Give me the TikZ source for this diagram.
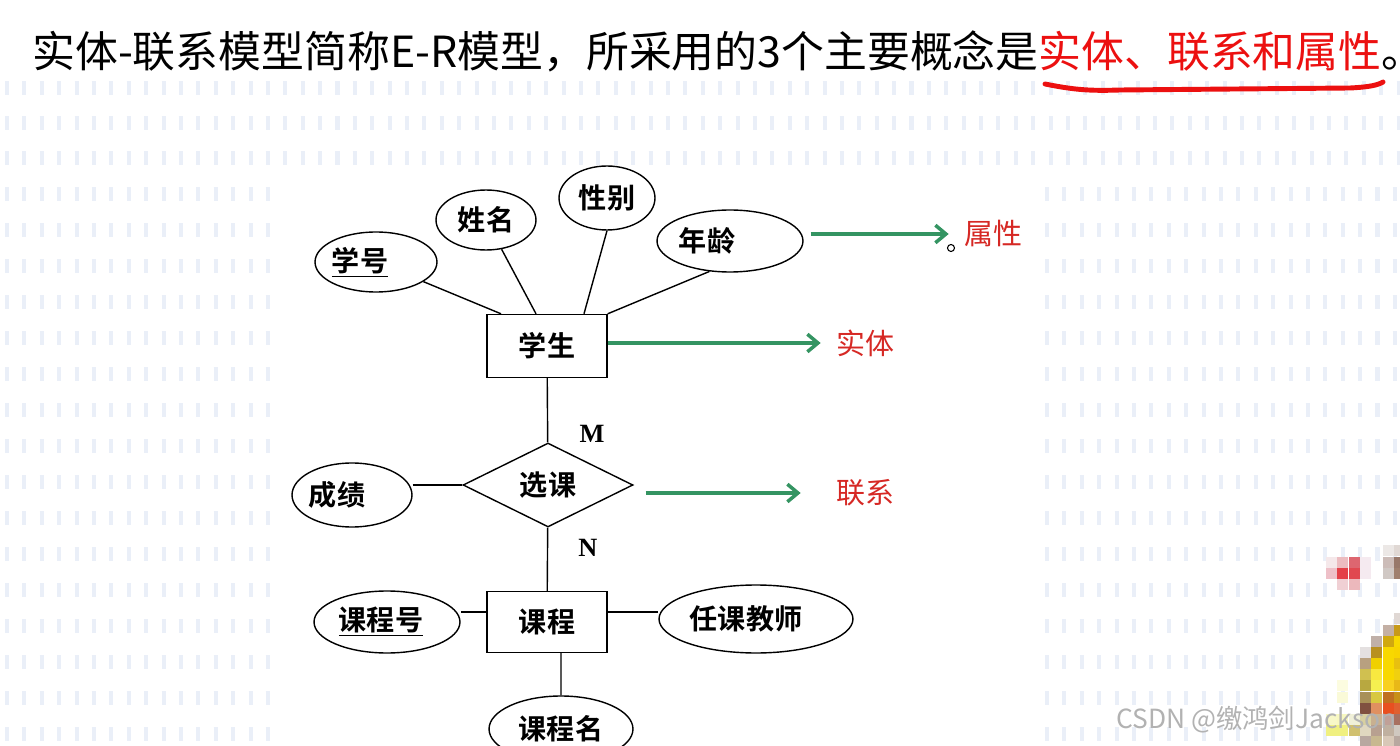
\documentclass[tikz,border=0pt]{standalone}
\usepackage{fontspec}
\setmainfont{Noto Sans CJK SC}
\newfontfamily\cjkbold{Noto Sans CJK SC Bold}
\newfontfamily\timesbold{Liberation Serif Bold}
\usepackage{xcolor}
\definecolor{erred}{RGB}{214,40,36}
\definecolor{ergreen}{RGB}{52,148,98}
\definecolor{titlered}{RGB}{236,16,16}
\definecolor{bgdash}{RGB}{234,239,248}
\definecolor{markgray}{RGB}{178,178,178}
\usetikzlibrary{arrows.meta,positioning,shapes.geometric,calc}

% shift a node text to the left without widening the node
\newcommand{\nudge}[2]{\makebox[0pt]{\hspace*{-#1}\hspace*{-#1}#2}}

\begin{document}
\begin{tikzpicture}[x=0.02cm, y=-0.02cm,
    attr/.style={ellipse, draw, line width=0.8pt, inner sep=0pt,
                 font=\cjkbold\fontsize{16pt}{18pt}\selectfont},
    ent/.style={rectangle, draw, line width=0.8pt, inner sep=0pt,
                minimum width=2.4cm, font=\cjkbold\fontsize{16pt}{18pt}\selectfont},
    rel/.style={diamond, draw, line width=0.8pt, inner sep=0pt,
                font=\cjkbold\fontsize{16pt}{18pt}\selectfont},
    card/.style={inner sep=0pt, font=\timesbold\fontsize{15pt}{17pt}\selectfont},
    concept/.style={text=erred, inner sep=0pt, font=\fontsize{16.5pt}{18pt}\selectfont},
    link/.style={line width=0.8pt},
    garrow/.style={draw=ergreen, line width=2pt,
                   -{Straight Barb[length=6pt,width=10pt]}},
    bgrow/.style={draw=bgdash, line width=8.5pt, dash pattern=on 2.3pt off 7.6pt}
  ]
  \clip (0,0) rectangle (1400,746);
  \fill[white] (0,0) rectangle (1400,746);

  % background dashes
  \foreach \y in {88,123,158} \draw[bgrow] (5,\y) -- (1400,\y);
  \foreach \y in {194,230,...,734} {
    \draw[bgrow] (5,\y) -- (282,\y);
    \draw[bgrow] (1045,\y) -- (1400,\y);
  }

  % Title
  \node[anchor=west, inner sep=0pt, font=\fontsize{24.4pt}{28pt}\selectfont] (title) at (32,51)
    {实体-联系模型简称E-R模型，所采用的3个主要概念是\textcolor{titlered}{实体、联系和属性}。};
  \draw[titlered, line width=2.8pt, line cap=round]
    (1045,84) .. controls (1075,90) and (1090,91) .. (1120,90) -- (1350,88)
    .. controls (1370,87) and (1378,85) .. (1383,82);

  % Student entity and its attributes
  \node[attr, minimum width=2.44cm, minimum height=1.2cm] (sno) at (376,262) {\nudge{0.32cm}{\underline{学号}}};
  \node[attr, minimum width=2cm, minimum height=1.2cm] (sname) at (486,220) {姓名};
  \node[attr, minimum width=1.92cm, minimum height=1.28cm] (ssex) at (607,198) {性别};
  \node[attr, minimum width=2.92cm, minimum height=1.24cm] (sage) at (730,241) {\nudge{0.46cm}{年龄}};
  \node[ent, minimum height=1.26cm] (student) at (547,346) {学生};

  % Relationship
  \node[rel, minimum width=3.4cm, minimum height=1.68cm] (choose) at (548,485) {选课};
  \node[attr, minimum width=2.4cm, minimum height=1.28cm] (grade) at (352,495) {\nudge{0.3cm}{成绩}};
  \node[card] (m) at (592,434) {M};
  \node[card] (n) at (588,548) {N};

  % Course entity and its attributes
  \node[ent, minimum height=1.22cm] (course) at (547,622) {课程};
  \node[attr, minimum width=2.92cm, minimum height=1.24cm] (cno) at (387,622) {\nudge{0.12cm}{\underline{课程号}}};
  \node[attr, minimum width=3.88cm, minimum height=1.36cm] (teacher) at (756,619) {\nudge{0.2cm}{任课教师}};
  \node[attr, minimum width=2.88cm, minimum height=1.32cm] (cname) at (561,729) {课程名};

  % Concept labels
  \node[concept] (lbattr) at (993,234) {属性};
  \node[concept] (lbent) at (865,343) {实体};
  \node[concept] (lbrel) at (865,493) {联系};

  % Links
  \draw[link] (sno) -- ([xshift=-0.92cm]student.north);
  \draw[link] (sname) -- ([xshift=-0.22cm]student.north);
  \draw[link] (ssex.south) -- ([xshift=0.74cm]student.north);
  \draw[link] (sage.-124) -- (student.north east);
  \draw[link] (student) -- (choose);
  \draw[link] (grade.east |- choose) -- (choose.west);
  \draw[link] (choose) -- (course);
  \draw[link] ([yshift=0.2cm]course.west) -- ([yshift=0.2cm]course.west -| cno.east);
  \draw[link] ([yshift=0.2cm]course.east) -- ([yshift=0.2cm]course.east -| teacher.west);
  \draw[link] ([xshift=0.28cm]course.south) -- (cname.north);

  % Pointer arrows
  \draw[garrow] ([xshift=0.14cm]sage.east |- lbattr) -- ([xshift=-0.3cm]lbattr.west);
  \draw[garrow] (student.east |- lbent) -- ([xshift=-0.3cm]lbent.west);
  \draw[garrow] ([xshift=0.24cm]choose.east |- lbrel) -- ([xshift=-0.7cm]lbrel.west);
  \draw[line width=0.6pt] (951,248) circle (2pt);

  % mosaic patches
  \foreach \x/\y/\h in {1326/557/F5E8EA, 1337/557/ECBCC0, 1349/557/DD6670, 1360/557/F5EAF0,
      1326/568/EEC0C8, 1337/568/E44048, 1349/568/E04850, 1360/568/F5EAF0,
      1337/579/F0D0D4, 1349/579/ECB8BC,
      1383/545/ECE8E6, 1383/557/CCBCB8, 1383/568/D0C8C4,
      1394/545/E0D8D4, 1394/557/98786A, 1394/568/A0806E,
      1394/613/E0D8D4, 1383/625/C4B0A4, 1394/625/C89A18,
      1371/636/C0B0A8, 1383/636/D0A810, 1394/636/F8D800,
      1360/647/E4E0E0, 1371/647/B89020, 1383/647/F8D800, 1394/647/F8D400,
      1360/658/B8A080, 1371/658/F0D000, 1383/658/F8D800, 1394/658/E8C010,
      1360/669/D0C050, 1371/669/F8E840, 1383/669/F8D800, 1394/669/F0D010,
      1337/680/FCFCE0, 1360/680/B8A840, 1371/680/F5F050, 1383/680/F8D020, 1394/680/E8B818,
      1337/692/FAFAD8, 1360/692/A89058, 1371/692/D8C840, 1383/692/C07020, 1394/692/C89018,
      1360/703/805040, 1371/703/E09060, 1383/703/E85020, 1394/703/E06030,
      1326/714/F8F8C8, 1337/714/F8F8C0, 1349/714/F0F0D8, 1360/714/D8D0A0,
      1371/714/C8B090, 1383/714/C0A098, 1394/714/A87060,
      1326/725/F0F080, 1337/725/F0F080, 1349/725/D0C070, 1360/725/E0D8C0,
      1371/725/B8A090, 1383/725/C0B0A0, 1394/725/D0C8C0,
      1360/736/B8A8A0, 1371/736/C8B890, 1383/736/D8C8B8, 1394/736/B8A8A0} {
    \definecolor{px}{HTML}{\h}
    \fill[px] (\x,\y) rectangle ++(11.4,11.4);
  }

  % watermark
  \node[text=markgray, anchor=west, inner sep=0pt, font=\fontsize{15pt}{17pt}\selectfont] (mark) at (1116,720)
    {CSDN @缴鸿剑Jackson};
\end{tikzpicture}
\end{document}
